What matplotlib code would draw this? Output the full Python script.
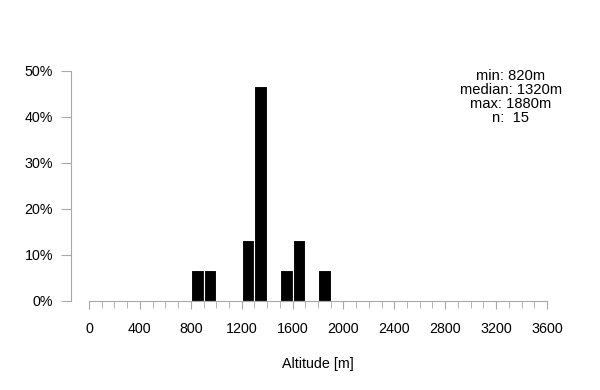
import matplotlib
matplotlib.use('Agg')
import matplotlib.pyplot as plt
import numpy as np

# histogram of altitudes, 100 m bins
bin_left = [800, 900, 1200, 1300, 1500, 1600, 1800]
counts = [1, 1, 2, 7, 1, 2, 1]
n = 15
alt_min, alt_median, alt_max = 820, 1320, 1880
xticks = list(range(0, 3601, 400))
yticks = [0, 0.1, 0.2, 0.3, 0.4, 0.5]

plt.rcParams['font.family'] = ['Liberation Sans', 'DejaVu Sans']

fig = plt.figure(figsize=(6, 3.9), dpi=100)
ax = fig.add_axes([89/600, 89/390, 458/600, 230/390])

frac = np.array(counts) / n
ax.bar(bin_left, frac, width=100, align='edge', color='black',
       edgecolor='white', linewidth=0.8)

ax.set_xlim(0, 3600)
ax.set_ylim(0, 0.5)
ax.set_xticks(xticks)
ax.set_xticks(range(0, 3601, 100), minor=True)
ax.set_yticks(yticks)
ax.set_yticklabels([f'{int(round(v*100))}%' for v in yticks])

gray = '#a8a8a8'
for s in ['top', 'right']:
    ax.spines[s].set_visible(False)
ax.spines['left'].set_position(('outward', 13))
ax.spines['left'].set_bounds(0, 0.5)
ax.spines['bottom'].set_bounds(0, 3600)
ax.spines['left'].set_color(gray)
ax.spines['bottom'].set_color(gray)
ax.tick_params(axis='both', which='both', color=gray, labelsize=10.3, labelcolor='black')
ax.tick_params(axis='x', which='major', length=6, pad=9)
ax.tick_params(axis='x', which='minor', length=5)
ax.tick_params(axis='y', which='major', length=7, pad=6)

ax.set_xlabel('Altitude [m]', fontsize=10.3, labelpad=15)

stats = f'min: {alt_min}m\nmedian: {alt_median}m\nmax: {alt_max}m\nn:  {n}'
fig.text(511/600, 1 - 97/390, stats, ha='center', va='center', fontsize=10.6,
         linespacing=1.0)

fig.savefig('out.png', dpi=100)
